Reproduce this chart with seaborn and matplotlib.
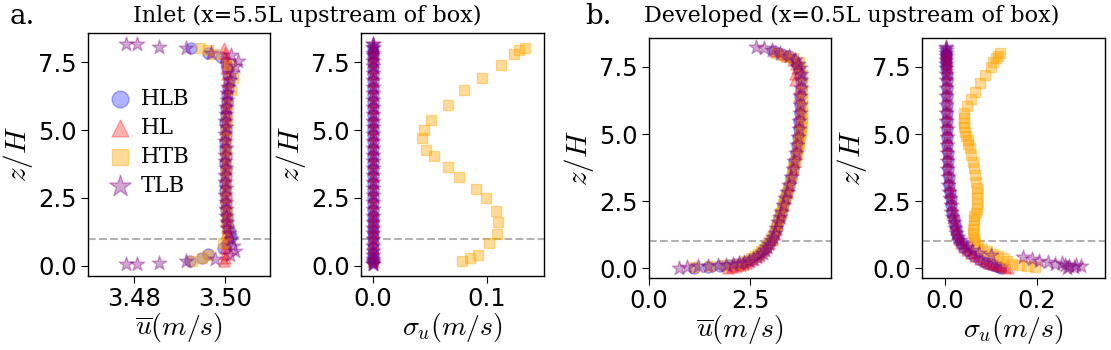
"""
Vertical profiles of mean velocity and std at the inlet and in front of the box.
"""
import matplotlib
matplotlib.use("Agg")
import matplotlib.pyplot as plt
import seaborn as sns

# ---- Inlet (a.) ----
z_a = [0.2, 0.3, 0.45, 0.65, 0.85, 1.05, 1.25, 1.45, 1.65, 1.85, 2.05, 2.3,
       2.55, 2.8, 3.05, 3.3, 3.55, 3.8, 4.05, 4.3, 4.55, 4.8, 5.05, 5.3, 5.55,
       5.8, 6.05, 6.3, 6.55, 6.8, 7.05, 7.3, 7.5, 7.7, 7.85, 8.0]
u_hlb_a = [3.4924, 3.4950, 3.4962, 3.4996, 3.5004, 3.5012, 3.5010, 3.5006,
           3.5004, 3.5003, 3.5002, 3.5001, 3.5001, 3.5000, 3.5000, 3.5001,
           3.5001, 3.5000, 3.5001, 3.5000, 3.5000, 3.5001, 3.5001, 3.5000,
           3.5001, 3.5002, 3.5003, 3.5005, 3.5006, 3.5008, 3.5007, 3.5004,
           3.5001, 3.4990, 3.4962, 3.4925]
u_hl_a = [3.4998, 3.4999, 3.5000, 3.4999, 3.5001, 3.5003, 3.5004, 3.5003,
          3.5002, 3.5001, 3.5001, 3.5000, 3.5000, 3.5000, 3.5001, 3.5000,
          3.5000, 3.5001, 3.5000, 3.5000, 3.5001, 3.5000, 3.5000, 3.5001,
          3.5001, 3.5002, 3.5002, 3.5003, 3.5004, 3.5004, 3.5003, 3.5002,
          3.5001, 3.5000, 3.4999, 3.4998]
sig_hlb_a = [0.0, 0.0, 0.0, 0.0, 0.0, 0.0, 0.0, 0.0, 0.0, 0.0, 0.0, 0.0,
             0.0, 0.0, 0.0, 0.0, 0.0, 0.0, 0.0, 0.0, 0.0, 0.0, 0.0, 0.0,
             0.0, 0.0, 0.0, 0.0, 0.0, 0.0, 0.0, 0.0, 0.0, 0.0, 0.0, 0.0]
sig_hl_a = [0.0, 0.0, 0.0, 0.0, 0.0, 0.0, 0.0, 0.0, 0.0, 0.0, 0.0, 0.0,
            0.0, 0.0, 0.0, 0.0, 0.0, 0.0, 0.0, 0.0, 0.0, 0.0, 0.0, 0.0,
            0.0, 0.0, 0.0, 0.0, 0.0, 0.0, 0.0, 0.0, 0.0, 0.0, 0.0, 0.0]

z_htb_a = [0.17, 0.28, 0.42, 0.83, 1.18, 1.63, 2.01, 2.49, 2.82, 3.28, 3.63,
           4.04, 4.25, 4.71, 4.99, 5.37, 5.92, 6.49, 6.92, 7.38, 7.79, 7.94, 8.03]
u_htb_a = [3.4928, 3.4950, 3.4962, 3.4995, 3.5003, 3.5005, 3.5003, 3.5002,
           3.5002, 3.5001, 3.5002, 3.5002, 3.5001, 3.5002, 3.5002, 3.5003,
           3.5006, 3.5012, 3.5018, 3.5008, 3.4975, 3.4962, 3.4946]
sig_htb_a = [0.078, 0.085, 0.0924, 0.1018, 0.1088, 0.1096, 0.108, 0.0988,
             0.090, 0.0757, 0.066, 0.0535, 0.0468, 0.0433, 0.045, 0.0506,
             0.0655, 0.080, 0.096, 0.112, 0.124, 0.128, 0.1333]

z_tlb_a = [0.06, 0.06, 0.10, 0.20, 0.25, 0.40, 0.55, 0.75, 1.0, 1.2, 1.4,
           1.6, 1.85, 2.1, 2.35, 2.6, 2.85, 3.1, 3.35, 3.6, 3.85, 4.1, 4.35,
           4.6, 4.85, 5.1, 5.35, 5.6, 5.85, 6.1, 6.35, 6.6, 6.85, 7.1, 7.35,
           7.55, 7.75, 7.85, 8.0, 8.06, 8.16, 8.16]
u_tlb_a = [3.4783, 3.4808, 3.4855, 3.4915, 3.4978, 3.5010, 3.5022, 3.5018,
           3.5012, 3.5008, 3.5005, 3.5003, 3.5002, 3.5001, 3.5001, 3.5000,
           3.5001, 3.5000, 3.5000, 3.5001, 3.5000, 3.5000, 3.5001, 3.5000,
           3.5000, 3.5001, 3.5000, 3.5001, 3.5002, 3.5003, 3.5005, 3.5007,
           3.5010, 3.5014, 3.5022, 3.5028, 3.5012, 3.4970, 3.4915, 3.4855,
           3.4808, 3.4783]
sig_tlb_a = [0.0, 0.0, 0.0, 0.0, 0.0, 0.0, 0.0, 0.0, 0.0, 0.0, 0.0, 0.0,
             0.0, 0.0, 0.0, 0.0, 0.0, 0.0, 0.0, 0.0, 0.0, 0.0, 0.0, 0.0,
             0.0, 0.0, 0.0, 0.0, 0.0, 0.0, 0.0, 0.0, 0.0, 0.0, 0.0, 0.0,
             0.0, 0.0, 0.0, 0.0, 0.0, 0.0]

# ---- Developed (b.) ----
z_b = [0.0, 0.03, 0.06, 0.1, 0.15, 0.2, 0.27, 0.35, 0.45, 0.55, 0.67, 0.8,
       0.95, 1.1, 1.27, 1.45, 1.65, 1.85, 2.1, 2.35, 2.6, 2.85, 3.1, 3.4, 3.7,
       4.0, 4.3, 4.6, 4.9, 5.2, 5.5, 5.8, 6.1, 6.4, 6.7, 7.0, 7.25, 7.45,
       7.62, 7.77, 7.9, 8.0, 8.1]
u_hlb_b = [1.10, 1.45, 1.75, 1.98, 2.15, 2.30, 2.43, 2.55, 2.66, 2.75, 2.83,
           2.90, 2.97, 3.03, 3.08, 3.13, 3.17, 3.21, 3.26, 3.31, 3.36, 3.41,
           3.45, 3.50, 3.55, 3.59, 3.63, 3.66, 3.69, 3.71, 3.72, 3.73, 3.74,
           3.74, 3.75, 3.75, 3.74, 3.72, 3.67, 3.58, 3.45, 3.30, 3.10]
sig_hlb_b = [0.122, 0.118, 0.112, 0.105, 0.097, 0.090, 0.082, 0.074, 0.064,
             0.055, 0.047, 0.040, 0.034, 0.029, 0.026, 0.023, 0.021, 0.019,
             0.016, 0.014, 0.012, 0.011, 0.009, 0.008, 0.007, 0.006, 0.006,
             0.005, 0.005, 0.005, 0.004, 0.004, 0.004, 0.004, 0.004, 0.004,
             0.004, 0.003, 0.003, 0.003, 0.003, 0.003, 0.003]
u_hl_b = [1.95, 2.05, 2.15, 2.25, 2.33, 2.40, 2.48, 2.57, 2.66, 2.75, 2.83,
          2.90, 2.97, 3.03, 3.08, 3.13, 3.17, 3.21, 3.26, 3.31, 3.36, 3.41,
          3.45, 3.50, 3.55, 3.59, 3.63, 3.66, 3.69, 3.71, 3.72, 3.73, 3.73,
          3.72, 3.70, 3.60, 3.62, 3.65, 3.63, 3.55, 3.42, 3.28, 3.12]
sig_hl_b = [0.138, 0.130, 0.122, 0.113, 0.104, 0.096, 0.086, 0.077, 0.066,
            0.057, 0.048, 0.041, 0.035, 0.030, 0.027, 0.024, 0.021, 0.019,
            0.017, 0.015, 0.013, 0.011, 0.010, 0.008, 0.007, 0.006, 0.006,
            0.005, 0.005, 0.005, 0.005, 0.004, 0.004, 0.004, 0.004, 0.005,
            0.005, 0.004, 0.004, 0.004, 0.003, 0.003, 0.003]

z_htb_b = [0.03, 0.06, 0.1, 0.17, 0.25, 0.36, 0.45, 0.52, 0.62, 0.73, 0.82,
           0.92, 1.05, 1.16, 1.3, 1.45, 1.6, 1.79, 1.95, 2.05, 2.2, 2.4, 2.6,
           2.8, 2.97, 3.2, 3.47, 3.72, 3.97, 4.2, 4.47, 4.62, 4.78, 4.93, 5.09,
           5.25, 5.4, 5.6, 5.77, 6.04, 6.31, 6.58, 6.9, 7.2, 7.51, 7.67, 7.82,
           7.92, 8.01]
u_htb_b = [1.10, 1.50, 1.85, 2.15, 2.35, 2.52, 2.62, 2.69, 2.77, 2.85, 2.90,
           2.95, 3.01, 3.05, 3.09, 3.13, 3.16, 3.20, 3.23, 3.25, 3.28, 3.32,
           3.37, 3.41, 3.44, 3.48, 3.53, 3.57, 3.61, 3.65, 3.68, 3.70, 3.72,
           3.73, 3.75, 3.76, 3.77, 3.78, 3.78, 3.79, 3.79, 3.79, 3.78, 3.77,
           3.74, 3.70, 3.55, 3.35, 3.15]
sig_htb_b = [0.196, 0.178, 0.16, 0.145, 0.135, 0.126, 0.115, 0.105, 0.092,
             0.08, 0.072, 0.066, 0.063, 0.062, 0.0615, 0.0615, 0.062, 0.062,
             0.064, 0.067, 0.069, 0.069, 0.069, 0.069, 0.069, 0.068, 0.065,
             0.063, 0.06, 0.057, 0.054, 0.051, 0.049, 0.046, 0.0435, 0.042,
             0.0406, 0.041, 0.042, 0.047, 0.056, 0.065, 0.076, 0.087, 0.1,
             0.105, 0.111, 0.116, 0.12]

z_tlb_b = [0.02, 0.04, 0.06, 0.08, 0.10, 0.12, 0.15, 0.18, 0.22, 0.27, 0.33,
           0.40, 0.48, 0.57, 0.67, 0.78, 0.90, 1.03, 1.17, 1.32, 1.50, 1.70,
           1.90, 2.10, 2.35, 2.60, 2.85, 3.10, 3.40, 3.70, 4.00, 4.30, 4.60,
           4.90, 5.20, 5.50, 5.80, 6.10, 6.40, 6.70, 7.00, 7.25, 7.45, 7.62,
           7.77, 7.90, 8.02, 8.12, 8.20, 8.25]
u_tlb_b = [0.75, 0.95, 1.20, 1.45, 1.70, 1.90, 2.08, 2.22, 2.35, 2.47, 2.57,
           2.66, 2.74, 2.81, 2.87, 2.92, 2.97, 3.02, 3.07, 3.11, 3.15, 3.19,
           3.23, 3.27, 3.31, 3.36, 3.41, 3.45, 3.50, 3.55, 3.59, 3.63, 3.66,
           3.69, 3.71, 3.72, 3.73, 3.74, 3.745, 3.75, 3.76, 3.76, 3.74, 3.69,
           3.60, 3.45, 3.25, 3.05, 2.85, 2.65]
sig_tlb_b = [0.265, 0.28, 0.27, 0.295, 0.26, 0.285, 0.24, 0.255, 0.225, 0.205,
             0.19, 0.17, 0.10, 0.075, 0.058, 0.047, 0.039, 0.032, 0.028, 0.024,
             0.021, 0.019, 0.016, 0.014, 0.012, 0.010, 0.009, 0.007, 0.006,
             0.005, 0.005, 0.004, 0.004, 0.004, 0.004, 0.003, 0.003, 0.003,
             0.003, 0.003, 0.003, 0.003, 0.003, 0.003, 0.003, 0.003, 0.003,
             0.003, 0.003, 0.003]

labels = ["HLB", "HL", "HTB", "TLB"]
colors = ["blue", "red", "orange", "purple"]
markers = ["o", "^", "s", "*"]
sizes = [65, 65, 60, 120]
alphas = [0.3, 0.3, 0.4, 0.35]

sns.set_style("ticks")
plt.rcParams["font.family"] = ["DejaVu Sans"]
plt.rcParams["mathtext.fontset"] = "cm"
plt.rcParams["xtick.direction"] = "out"
plt.rcParams["ytick.direction"] = "out"
plt.rcParams["text.color"] = "black"
plt.rcParams["axes.labelcolor"] = "black"
plt.rcParams["xtick.color"] = "black"
plt.rcParams["ytick.color"] = "black"

fig = plt.figure(figsize=(11.11, 3.5), dpi=100)
ax1 = fig.add_axes([0.0792, 0.2114, 0.1638, 0.6943])
ax2 = fig.add_axes([0.3249, 0.2114, 0.1647, 0.6943])
ax3 = fig.add_axes([0.5842, 0.2057, 0.1638, 0.6857])
ax4 = fig.add_axes([0.8299, 0.2057, 0.1647, 0.6857])


def draw(ax, series, legend=False):
    for (x, z), lab, c, m, s, a in zip(series, labels, colors, markers, sizes, alphas):
        sns.scatterplot(x=x, y=z, ax=ax, color=c, marker=m, s=s, alpha=a,
                        edgecolor=c, linewidth=1, label=lab if legend else None,
                        legend=False, zorder=3)
    ax.axhline(1.0, color="gray", ls="--", lw=1.5, alpha=0.6, zorder=2)
    ax.set_ylabel("$z/H$", fontsize=21, labelpad=2)
    ax.set_yticks([0.0, 2.5, 5.0, 7.5])
    ax.tick_params(labelsize=17.5, length=5, color="black", labelcolor="black", pad=3)
    for sp in ax.spines.values():
        sp.set_color("black")
        sp.set_linewidth(1.0)


draw(ax1, [(u_hlb_a, z_a), (u_hl_a, z_a), (u_htb_a, z_htb_a), (u_tlb_a, z_tlb_a)], legend=True)
draw(ax2, [(sig_hlb_a, z_a), (sig_hl_a, z_a), (sig_htb_a, z_htb_a), (sig_tlb_a, z_tlb_a)])
draw(ax3, [(u_hlb_b, z_b), (u_hl_b, z_b), (u_htb_b, z_htb_b), (u_tlb_b, z_tlb_b)])
draw(ax4, [(sig_hlb_b, z_b), (sig_hl_b, z_b), (sig_htb_b, z_htb_b), (sig_tlb_b, z_tlb_b)])

ax1.set_xlim(3.470, 3.5098)
ax1.set_xticks([3.48, 3.50])
ax1.set_xticklabels(["3.48", "3.50"])
ax2.set_xlim(-0.0105, 0.150)
ax2.set_xticks([0.0, 0.1])
ax3.set_xlim(0.0, 4.5)
ax3.set_xticks([0.0, 2.5])
ax4.set_xlim(-0.05, 0.348)
ax4.set_xticks([0.0, 0.2])
for ax in (ax1, ax2):
    ax.set_ylim(-0.37, 8.57)
for ax in (ax3, ax4):
    ax.set_ylim(-0.37, 8.58)

for ax, lab in ((ax1, r"$\overline{u}(m/s)$"), (ax3, r"$\overline{u}(m/s)$"),
                (ax2, r"$\sigma_u(m/s)$"), (ax4, r"$\sigma_u(m/s)$")):
    ax.set_xlabel(lab, fontsize=20, labelpad=0)

ax1.legend(loc="center left", bbox_to_anchor=(0.07, 0.55), frameon=False,
           prop={"family": "DejaVu Serif", "size": 15.5}, handlelength=1.0,
           handletextpad=0.45, labelspacing=0.33, borderaxespad=0,
           markerscale=1.5)

fig.text(0.009, 0.99, "a.", fontsize=20, family="DejaVu Serif", va="top")
fig.text(0.277, 0.985, "Inlet (x=5.5L upstream of box)", fontsize=16,
         family="DejaVu Serif", va="top", ha="center")
fig.text(0.527, 0.99, "b.", fontsize=20, family="DejaVu Serif", va="top")
fig.text(0.767, 0.985, "Developed (x=0.5L upstream of box)", fontsize=16,
         family="DejaVu Serif", va="top", ha="center")

fig.savefig("out.png", dpi=100)
plt.close(fig)
